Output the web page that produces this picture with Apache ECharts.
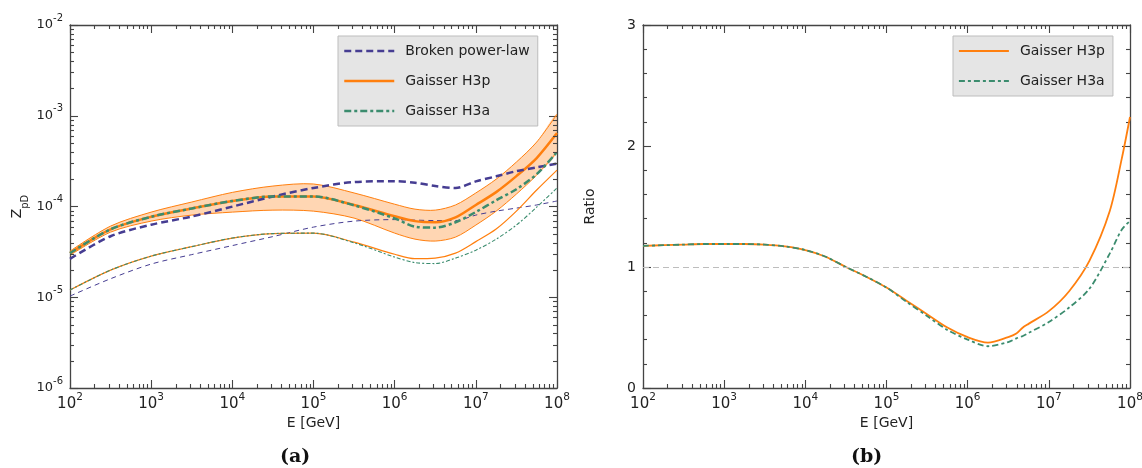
<!DOCTYPE html>
<html><head><meta charset="utf-8">
<script src="https://cdn.jsdelivr.net/npm/echarts@6/dist/echarts.min.js"></script>
<style>html,body{margin:0;padding:0;background:#fff}#c{width:1142px;height:468px}</style>
</head><body><div id="c"></div>
<script>
// ---------- data ----------
const energies = [1e2, 3.16e2, 1e3, 3.16e3, 1e4, 3.16e4, 1e5, 3.16e5, 1e6, 1.78e6, 3.16e6, 5.62e6, 1e7, 1.78e7, 3.16e7, 5.62e7, 1e8];
const brokenPowerLaw = [2.65e-5, 4.7e-5, 6.3e-5, 7.75e-5, 9.97e-5, 1.29e-4, 1.6e-4, 1.86e-4, 1.9e-4, 1.83e-4, 1.68e-4, 1.6e-4, 1.89e-4, 2.15e-4, 2.45e-4, 2.7e-4, 2.97e-4];
const gaisserH3p = [3.06e-5, 5.6e-5, 7.7e-5, 9.5e-5, 1.15e-4, 1.29e-4, 1.29e-4, 1.04e-4, 7.8e-5, 6.9e-5, 6.7e-5, 7.6e-5, 1.04e-4, 1.44e-4, 2.16e-4, 3.42e-4, 6.44e-4];
const gaisserH3a = [3.06e-5, 5.6e-5, 7.7e-5, 9.5e-5, 1.15e-4, 1.29e-4, 1.29e-4, 1.03e-4, 7.4e-5, 6.0e-5, 5.85e-5, 6.7e-5, 8.7e-5, 1.17e-4, 1.55e-4, 2.27e-4, 3.98e-4];
const h3pBandUpper = [3.22e-5, 6.08e-5, 8.67e-5, 1.12e-4, 1.43e-4, 1.68e-4, 1.77e-4, 1.41e-4, 1.06e-4, 9.35e-5, 9.12e-5, 1.04e-4, 1.41e-4, 2.0e-4, 3.09e-4, 5.13e-4, 1.04e-3];
const h3pBandLower = [2.91e-5, 5.22e-5, 6.9e-5, 8.04e-5, 8.67e-5, 9.12e-5, 8.89e-5, 7.45e-5, 5.09e-5, 4.37e-5, 4.16e-5, 4.6e-5, 6.24e-5, 8.89e-5, 1.37e-4, 2.22e-4, 3.98e-4];
const thinH3p = [1.2e-5, 1.99e-5, 2.84e-5, 3.61e-5, 4.49e-5, 5.03e-5, 5.09e-5, 4.05e-5, 2.98e-5, 2.66e-5, 2.7e-5, 3.06e-5, 4.1e-5, 5.64e-5, 8.89e-5, 1.52e-4, 2.52e-4];
const thinH3a = [1.2e-5, 1.99e-5, 2.84e-5, 3.61e-5, 4.49e-5, 5.03e-5, 5.09e-5, 3.98e-5, 2.77e-5, 2.41e-5, 2.35e-5, 2.7e-5, 3.3e-5, 4.37e-5, 6.24e-5, 9.84e-5, 1.6e-4];
const thinBrokenPowerLaw = [1.03e-5, 1.6e-5, 2.32e-5, 2.95e-5, 3.71e-5, 4.66e-5, 5.93e-5, 6.9e-5, 7.17e-5, 7.08e-5, 7.0e-5, 7.0e-5, 8.04e-5, 8.89e-5, 9.6e-5, 1.04e-4, 1.15e-4];

const ratioEnergies = [1e2, 1.78e2, 3.16e2, 5.62e2, 1e3, 1.78e3, 3.16e3, 5.62e3, 1e4, 1.78e4, 3.16e4, 5.62e4, 1e5, 1.78e5, 3.16e5, 5.62e5, 1e6, 1.78e6, 3.16e6, 3.98e6, 4.79e6, 5.62e6, 1e7, 1.78e7, 3.16e7, 5.62e7, 7.94e7, 1e8];
const ratioH3p = [1.175, 1.18, 1.185, 1.19, 1.19, 1.19, 1.185, 1.17, 1.14, 1.085, 1.0, 0.92, 0.83, 0.72, 0.61, 0.50, 0.42, 0.375, 0.42, 0.45, 0.50, 0.53, 0.635, 0.80, 1.05, 1.46, 1.9, 2.24];
const ratioH3a = [1.175, 1.18, 1.185, 1.19, 1.19, 1.19, 1.185, 1.17, 1.14, 1.085, 1.0, 0.92, 0.83, 0.71, 0.595, 0.48, 0.40, 0.345, 0.38, 0.41, 0.43, 0.455, 0.545, 0.665, 0.82, 1.11, 1.31, 1.38];

const xTickLabels = ['10{s|2}', '10{s|3}', '10{s|4}', '10{s|5}', '10{s|6}', '10{s|7}', '10{s|8}'];
const zTickLabels = ['10{s|-6}', '10{s|-5}', '10{s|-4}', '10{s|-3}', '10{s|-2}'];

// ---------- styles ----------
const PURPLE = '#463d92', ORANGE = '#ff7f0e', GREEN = '#3b8c6e';
const AXIS = '#444444', TXT = '#222222', FONT = 'DejaVu Sans';

const xMinors = [];
for (let d = 2; d < 8; d++) for (let k = 2; k <= 9; k++) xMinors.push(k * Math.pow(10, d));
const zMinors = [];
for (let d = -6; d < -2; d++) for (let k = 2; k <= 9; k++) zMinors.push(k * Math.pow(10, d));

function xLabel(v) {
  const i = Math.round(Math.log10(v)) - 2;
  return '{b|' + xTickLabels[i].replace('{s|', '}{s|');
}
function zLabel(v) {
  const i = Math.round(Math.log10(v)) + 6;
  return '{b|' + zTickLabels[i].replace('{s|', '}{s|');
}
const xRich = {
  b: { fontSize: 15, lineHeight: 24, verticalAlign: 'middle', color: TXT, fontFamily: FONT },
  s: { fontSize: 10.5, lineHeight: 11, verticalAlign: 'top', color: TXT, fontFamily: FONT }
};
const zRich = {
  b: { fontSize: 13, lineHeight: 24, verticalAlign: 'middle', color: TXT, fontFamily: FONT },
  s: { fontSize: 10, lineHeight: 10, verticalAlign: 'top', color: TXT, fontFamily: FONT }
};
const axLine = { show: true, onZero: false, lineStyle: { color: AXIS, width: 1.3 } };
const axTick = { show: true, inside: true, length: 8, lineStyle: { color: AXIS, width: 1.1 } };

function logX(grid, pos, show) {
  return {
    gridIndex: grid, type: 'log', logBase: 10, min: 1e2, max: 1e8, interval: 1, position: pos,
    axisLine: axLine, axisTick: axTick,
    minorTick: { show: false },
    splitLine: { show: false },
    axisLabel: show ? { show: true, margin: 4, formatter: xLabel, rich: xRich, showMinLabel: true, showMaxLabel: true, hideOverlap: false } : { show: false },
    name: show ? 'E [GeV]' : '', nameLocation: 'middle', nameGap: 28,
    nameTextStyle: { fontSize: 14, color: TXT, fontFamily: FONT }
  };
}
function minorTickSeries(xIdx, yIdx, xRef, yRef, yMin) {
  return {
    type: 'custom', xAxisIndex: xIdx, yAxisIndex: yIdx, silent: true, z: 5,
    data: [[xRef, yRef]],
    renderItem: function (params, api) {
      const cs = params.coordSys;
      const ch = [];
      const st = { stroke: AXIS, lineWidth: 1.1 };
      xMinors.forEach(function (v) {
        const px = Math.round(api.coord([v, yRef])[0]) + 0.5;
        ch.push({ type: 'line', shape: { x1: px, y1: cs.y + cs.height, x2: px, y2: cs.y + cs.height - 4 }, style: st });
        ch.push({ type: 'line', shape: { x1: px, y1: cs.y, x2: px, y2: cs.y + 4 }, style: st });
      });
      yMin.forEach(function (v) {
        const py = Math.round(api.coord([xRef, v])[1]) + 0.5;
        ch.push({ type: 'line', shape: { x1: cs.x, y1: py, x2: cs.x + 4, y2: py }, style: st });
        ch.push({ type: 'line', shape: { x1: cs.x + cs.width, y1: py, x2: cs.x + cs.width - 4, y2: py }, style: st });
      });
      return { type: 'group', children: ch };
    }
  };
}
function pairs(xs, ys) { return xs.map(function (x, i) { return [x, ys[i]]; }); }
const noSym = { opacity: 0 };

const chart = echarts.init(document.getElementById('c'), null, { renderer: 'canvas' });
const option = {
  animation: false,
  backgroundColor: '#ffffff',
  textStyle: { fontFamily: FONT },
  grid: [
    { left: 70, top: 25, width: 487, height: 363, containLabel: false, outerBoundsMode: 'none' },
    { left: 643, top: 25, width: 487, height: 363, containLabel: false, outerBoundsMode: 'none' }
  ],
  xAxis: [logX(0, 'bottom', true), logX(0, 'top', false), logX(1, 'bottom', true), logX(1, 'top', false)],
  yAxis: [
    {
      gridIndex: 0, type: 'log', logBase: 10, min: 1e-6, max: 1e-2, interval: 1, position: 'left',
      axisLine: axLine, axisTick: axTick,
      splitLine: { show: false },
      axisLabel: { show: true, margin: 7, formatter: zLabel, rich: zRich, showMinLabel: true, showMaxLabel: true },
      name: '{z|Z}{p|pD}', nameLocation: 'middle', nameRotate: 90, nameGap: 40,
      nameTextStyle: { rich: {
        z: { fontSize: 14, lineHeight: 20, verticalAlign: 'top', color: TXT, fontFamily: FONT },
        p: { fontSize: 10, lineHeight: 10, verticalAlign: 'bottom', color: TXT, fontFamily: FONT }
      } }
    },
    {
      gridIndex: 0, type: 'log', logBase: 10, min: 1e-6, max: 1e-2, interval: 1, position: 'right',
      axisLine: axLine, axisTick: axTick,
      splitLine: { show: false }, axisLabel: { show: false }
    },
    {
      gridIndex: 1, type: 'value', min: 0, max: 3, interval: 1, position: 'left',
      axisLine: axLine, axisTick: axTick,
      minorTick: { show: true, splitNumber: 5, length: 4, lineStyle: { color: AXIS, width: 1.1 } },
      splitLine: { show: false }, minorSplitLine: { show: false },
      axisLabel: { show: true, margin: 7, fontSize: 14, color: TXT, fontFamily: FONT },
      name: 'Ratio', nameLocation: 'middle', nameRotate: 90, nameGap: 46,
      nameTextStyle: { fontSize: 14, color: TXT, fontFamily: FONT }
    },
    {
      gridIndex: 1, type: 'value', min: 0, max: 3, interval: 1, position: 'right',
      axisLine: axLine, axisTick: axTick,
      minorTick: { show: true, splitNumber: 5, length: 4, lineStyle: { color: AXIS, width: 1.1 } },
      splitLine: { show: false }, axisLabel: { show: false }
    }
  ],
  legend: [
    {
      orient: 'vertical', left: 338, top: 36, padding: [8, 8, 8, 5], itemWidth: 50, itemHeight: 14, itemGap: 16,
      backgroundColor: '#e5e5e5', borderColor: '#bdbdbd', borderWidth: 1, borderRadius: 0,
      textStyle: { fontSize: 14, color: TXT, fontFamily: FONT, padding: [0, 0, 0, 6] },
      selectedMode: false,
      data: [
        { name: 'Broken power-law', itemStyle: noSym, lineStyle: { color: PURPLE, width: 2.5, type: [7, 4] } },
        { name: 'Gaisser H3p', itemStyle: noSym, lineStyle: { color: ORANGE, width: 2.5, type: 'solid' } },
        { name: 'Gaisser H3a', itemStyle: noSym, lineStyle: { color: GREEN, width: 2.5, type: [7, 3, 3, 3] } }
      ]
    },
    {
      orient: 'vertical', left: 953, top: 36, padding: [8, 8, 8, 5], itemWidth: 50, itemHeight: 14, itemGap: 16,
      backgroundColor: '#e5e5e5', borderColor: '#bdbdbd', borderWidth: 1, borderRadius: 0,
      textStyle: { fontSize: 14, color: TXT, fontFamily: FONT, padding: [0, 0, 0, 6] },
      selectedMode: false,
      data: [
        { name: 'Gaisser H3p', itemStyle: noSym, lineStyle: { color: ORANGE, width: 1.8, type: 'solid' } },
        { name: 'Gaisser H3a', itemStyle: noSym, lineStyle: { color: GREEN, width: 1.8, type: [6, 3, 3, 3] } }
      ]
    }
  ],
  graphic: [
    { type: 'text', left: 280, top: 448, style: { text: '(a)', font: 'bold 19px "DejaVu Serif"', fill: '#111' } },
    { type: 'text', left: 851, top: 448, style: { text: '(b)', font: 'bold 19px "DejaVu Serif"', fill: '#111' } }
  ],
  series: [
    {
      type: 'custom', name: 'H3p band', xAxisIndex: 0, yAxisIndex: 0, silent: true, z: 1, clip: true,
      data: energies.map(function (e, i) { return [e, h3pBandUpper[i], h3pBandLower[i]]; }),
      encode: { x: 0, y: [1, 2] },
      renderItem: function (params, api) {
        if (params.dataIndex !== 0) return;
        const up = energies.map(function (e, i) { return api.coord([e, h3pBandUpper[i]]); });
        const lo = energies.map(function (e, i) { return api.coord([e, h3pBandLower[i]]); });
        return { type: 'group', children: [
          { type: 'polygon', shape: { points: up.concat(lo.slice().reverse()), smooth: 0.3 }, style: { fill: 'rgba(255,128,20,0.32)', stroke: null } },
          { type: 'polyline', shape: { points: up, smooth: 0.3 }, style: { stroke: ORANGE, lineWidth: 1, fill: null } },
          { type: 'polyline', shape: { points: lo, smooth: 0.3 }, style: { stroke: ORANGE, lineWidth: 1, fill: null } }
        ] };
      }
    },
    { type: 'line', name: 'thin BPL', xAxisIndex: 0, yAxisIndex: 0, data: pairs(energies, thinBrokenPowerLaw), symbol: 'none', smooth: 0.3, silent: true, z: 2,
      itemStyle: { color: PURPLE }, lineStyle: { color: PURPLE, width: 1, type: [5, 4] } },
    { type: 'line', name: 'thin H3p', xAxisIndex: 0, yAxisIndex: 0, data: pairs(energies, thinH3p), symbol: 'none', smooth: 0.3, silent: true, z: 2,
      itemStyle: { color: ORANGE }, lineStyle: { color: ORANGE, width: 1.2 } },
    { type: 'line', name: 'thin H3a', xAxisIndex: 0, yAxisIndex: 0, data: pairs(energies, thinH3a), symbol: 'none', smooth: 0.3, silent: true, z: 2,
      itemStyle: { color: GREEN }, lineStyle: { color: GREEN, width: 1.1, type: [4, 2, 2, 2] } },
    { type: 'line', name: 'Gaisser H3p', xAxisIndex: 0, yAxisIndex: 0, data: pairs(energies, gaisserH3p), symbol: 'none', smooth: 0.3, silent: true, z: 3,
      itemStyle: { color: ORANGE }, lineStyle: { color: ORANGE, width: 2.5 } },
    { type: 'line', name: 'Broken power-law', xAxisIndex: 0, yAxisIndex: 0, data: pairs(energies, brokenPowerLaw), symbol: 'none', smooth: 0.3, silent: true, z: 3,
      itemStyle: { color: PURPLE }, lineStyle: { color: PURPLE, width: 2.5, type: [7, 4] } },
    { type: 'line', name: 'Gaisser H3a', xAxisIndex: 0, yAxisIndex: 0, data: pairs(energies, gaisserH3a), symbol: 'none', smooth: 0.3, silent: true, z: 4,
      itemStyle: { color: GREEN }, lineStyle: { color: GREEN, width: 2.5, type: [7, 3, 3, 3] } },
    { type: 'line', name: 'Gaisser H3p', xAxisIndex: 2, yAxisIndex: 2, data: pairs(ratioEnergies, ratioH3p), symbol: 'none', smooth: 0.3, silent: true, z: 3,
      itemStyle: { color: ORANGE }, lineStyle: { color: ORANGE, width: 1.8 },
      markLine: { silent: true, symbol: ['none', 'none'], label: { show: false }, animation: false,
        lineStyle: { color: '#bdbdbd', width: 1.1, type: [6, 4] }, data: [{ yAxis: 1 }] } },
    { type: 'line', name: 'Gaisser H3a', xAxisIndex: 2, yAxisIndex: 2, data: pairs(ratioEnergies, ratioH3a), symbol: 'none', smooth: 0.3, silent: true, z: 4,
      itemStyle: { color: GREEN }, lineStyle: { color: GREEN, width: 1.8, type: [6, 3, 3, 3] } },
    minorTickSeries(0, 0, 1e3, 1e-4, zMinors),
    minorTickSeries(2, 2, 1e3, 1, [])
  ]
};
chart.setOption(option);
</script>
</body></html>
